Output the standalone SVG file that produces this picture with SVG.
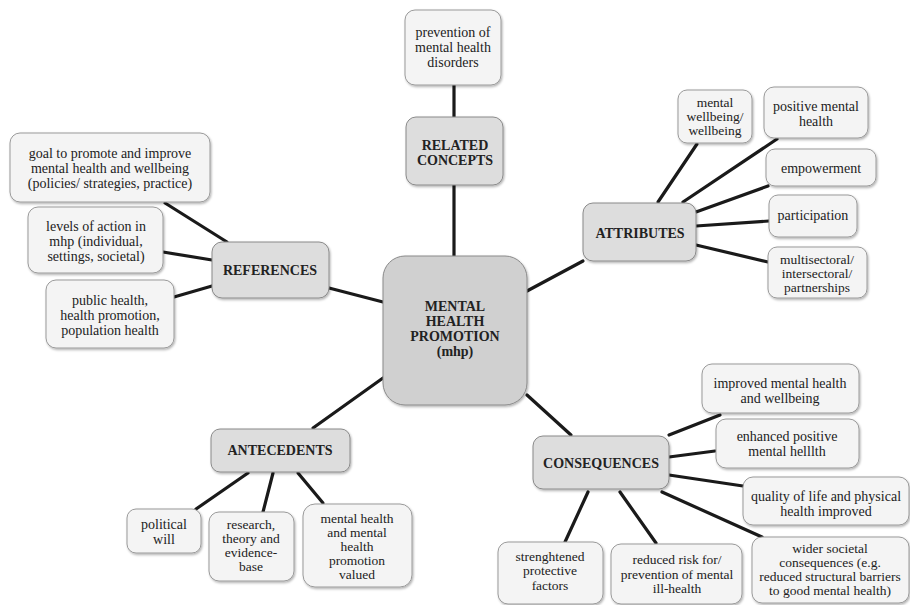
<svg xmlns="http://www.w3.org/2000/svg" width="910" height="605" viewBox="0 0 910 605">
<defs>
<filter id="sh" x="-10%" y="-10%" width="125%" height="130%">
<feDropShadow dx="1" dy="1.5" stdDeviation="1.2" flood-color="#000" flood-opacity="0.3"/>
</filter>
<style>
.leaf{fill:#f4f4f4;stroke:#9a9a9a;stroke-width:1;filter:url(#sh)}
.cat{fill:#dddddd;stroke:#8a8a8a;stroke-width:1;filter:url(#sh)}
.ctr{fill:#d0d0d0;stroke:#8a8a8a;stroke-width:1;filter:url(#sh)}
text{font-size:14px;fill:#222;text-anchor:middle}
.t{font-size:13.5px}
.b{font-weight:bold;fill:#222}
#connectors line{stroke:#1a1a1a;stroke-width:3.2;stroke-linecap:round}
</style>
</defs>
<rect width="910" height="605" fill="#fff"/>
<g id="connectors">
<line x1="454" y1="85" x2="454" y2="117"/>
<line x1="454" y1="185" x2="454" y2="256"/>
<line x1="165" y1="203" x2="227" y2="242"/>
<line x1="163" y1="252" x2="212" y2="260"/>
<line x1="174" y1="297" x2="212" y2="286"/>
<line x1="329" y1="288" x2="383" y2="302"/>
<line x1="527" y1="291" x2="583" y2="261"/>
<line x1="658" y1="202" x2="697" y2="144"/>
<line x1="683" y1="202" x2="777" y2="139"/>
<line x1="696" y1="212" x2="768" y2="186"/>
<line x1="696" y1="226" x2="769" y2="221"/>
<line x1="696" y1="245" x2="768" y2="262"/>
<line x1="313" y1="428" x2="383" y2="378"/>
<line x1="248" y1="473" x2="196" y2="509"/>
<line x1="273" y1="473" x2="263" y2="512"/>
<line x1="298" y1="473" x2="323" y2="503"/>
<line x1="527" y1="395" x2="571" y2="435"/>
<line x1="669" y1="435" x2="720" y2="415"/>
<line x1="669" y1="457" x2="715" y2="451"/>
<line x1="669" y1="475" x2="743" y2="486"/>
<line x1="662" y1="492" x2="762" y2="537"/>
<line x1="588" y1="492" x2="565" y2="542"/>
<line x1="620" y1="492" x2="656" y2="543"/>
</g>
<g font-family="'Liberation Serif', 'DejaVu Serif', serif">
<g id="center"><rect class="ctr" x="383" y="256" width="144" height="149" rx="22"/>
<text class="b" x="455" y="311">MENTAL</text><text class="b" x="455" y="326">HEALTH</text><text class="b" x="455" y="341">PROMOTION</text><text class="b" x="455" y="356">(mhp)</text></g>
<g id="related"><rect class="cat" x="406" y="117" width="97" height="68" rx="10"/>
<text class="b" x="455" y="150">RELATED</text><text class="b" x="455" y="165">CONCEPTS</text></g>
<g id="prevention"><rect class="leaf" x="405" y="10" width="96" height="75" rx="10"/>
<text x="453" y="37">prevention of</text><text x="453" y="52">mental health</text><text x="453" y="67">disorders</text></g>
<g id="references"><rect class="cat" x="212" y="242" width="117" height="56" rx="10"/>
<text class="b" x="270" y="275">REFERENCES</text></g>
<g id="goal"><rect class="leaf" x="10" y="133" width="200" height="69" rx="10"/>
<text x="110" y="158">goal to promote and improve</text><text x="110" y="173">mental health and wellbeing</text><text x="110" y="188">(policies/ strategies, practice)</text></g>
<g id="levels"><rect class="leaf" x="28" y="207" width="135" height="66" rx="10"/>
<text x="96" y="231">levels of action in</text><text x="96" y="246">mhp (individual,</text><text x="96" y="261">settings, societal)</text></g>
<g id="public"><rect class="leaf" x="46" y="280" width="128" height="68" rx="10"/>
<text x="110" y="305">public health,</text><text x="110" y="320">health promotion,</text><text x="110" y="335">population health</text></g>
<g id="attributes"><rect class="cat" x="583" y="203" width="113" height="58" rx="10"/>
<text class="b" x="640" y="238">ATTRIBUTES</text></g>
<g id="wellbeing"><rect class="leaf" x="678" y="90" width="74" height="53" rx="9"/>
<text class="t" x="715" y="107">mental</text><text class="t" x="715" y="121">wellbeing/</text><text class="t" x="715" y="135">wellbeing</text></g>
<g id="positive"><rect class="leaf" x="764" y="87" width="104" height="51" rx="10"/>
<text x="816" y="111">positive mental</text><text x="816" y="126">health</text></g>
<g id="empowerment"><rect class="leaf" x="766" y="149" width="110" height="37" rx="9"/>
<text x="821" y="173">empowerment</text></g>
<g id="participation"><rect class="leaf" x="769" y="195" width="88" height="42" rx="9"/>
<text x="813" y="220">participation</text></g>
<g id="multisectoral"><rect class="leaf" x="768" y="247" width="99" height="51" rx="9"/>
<text class="t" x="817" y="264">multisectoral/</text><text class="t" x="817" y="278">intersectoral/</text><text class="t" x="817" y="292">partnerships</text></g>
<g id="antecedents"><rect class="cat" x="211" y="429" width="139" height="43" rx="9"/>
<text class="b" x="280" y="455">ANTECEDENTS</text></g>
<g id="political"><rect class="leaf" x="127" y="509" width="74" height="44" rx="9"/>
<text x="164" y="529">political</text><text x="164" y="544">will</text></g>
<g id="research"><rect class="leaf" x="209" y="512" width="85" height="69" rx="10"/>
<text class="t" x="251" y="529">research,</text><text class="t" x="251" y="543">theory and</text><text class="t" x="251" y="557">evidence-</text><text class="t" x="251" y="571">base</text></g>
<g id="valued"><rect class="leaf" x="303" y="504" width="109" height="83" rx="12"/>
<text class="t" x="357" y="523">mental health</text><text class="t" x="357" y="537">and mental</text><text class="t" x="357" y="551">health</text><text class="t" x="357" y="565">promotion</text><text class="t" x="357" y="579">valued</text></g>
<g id="consequences"><rect class="cat" x="533" y="436" width="136" height="53" rx="10"/>
<text class="b" x="601" y="468">CONSEQUENCES</text></g>
<g id="improved"><rect class="leaf" x="702" y="364" width="157" height="49" rx="10"/>
<text x="780" y="388">improved mental health</text><text x="780" y="403">and wellbeing</text></g>
<g id="enhanced"><rect class="leaf" x="716" y="419" width="143" height="49" rx="10"/>
<text x="787" y="441">enhanced positive</text><text x="787" y="456">mental helllth</text></g>
<g id="quality"><rect class="leaf" x="743" y="477" width="166" height="48" rx="10"/>
<text x="826" y="501">quality of life and physical</text><text x="826" y="516">health improved</text></g>
<g id="wider"><rect class="leaf" x="752" y="537" width="157" height="66" rx="10"/>
<text class="t" x="830" y="553">wider societal</text><text class="t" x="830" y="567">consequences (e.g.</text><text class="t" x="830" y="581">reduced structural barriers</text><text class="t" x="830" y="595">to good mental health)</text></g>
<g id="strengthened"><rect class="leaf" x="498" y="542" width="105" height="62" rx="10"/>
<text class="t" x="550" y="561">strenghtened</text><text class="t" x="550" y="575">protective</text><text class="t" x="550" y="590">factors</text></g>
<g id="reduced"><rect class="leaf" x="611" y="544" width="131" height="60" rx="10"/>
<text class="t" x="677" y="564">reduced risk for/</text><text class="t" x="677" y="579">prevention of mental</text><text class="t" x="677" y="593">ill-health</text></g>
</g>
</svg>
